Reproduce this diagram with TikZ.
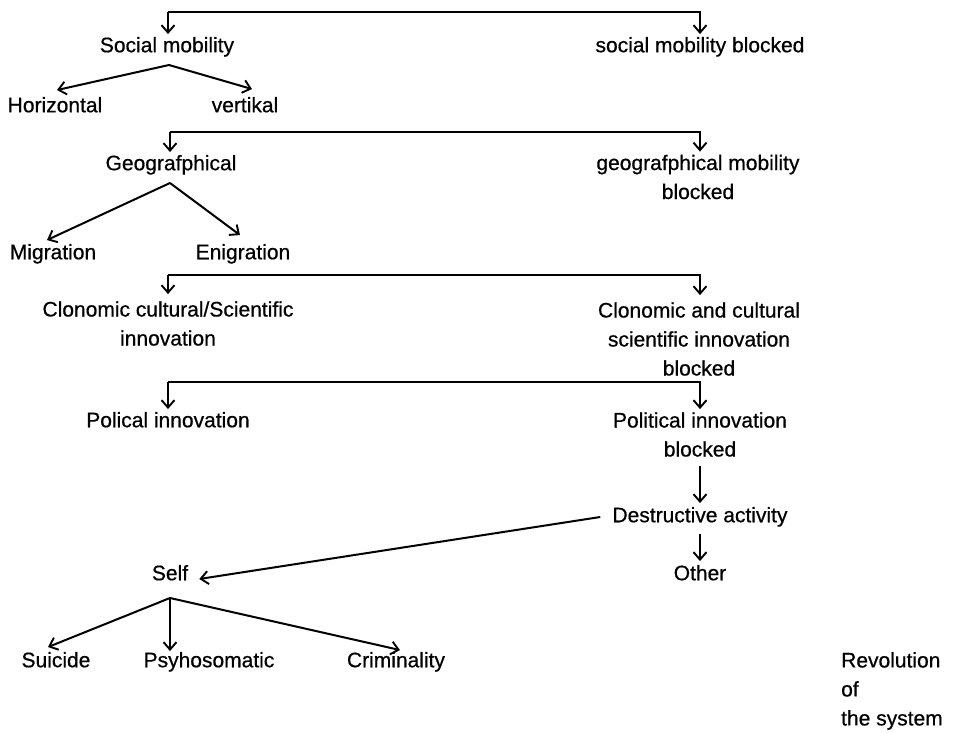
\documentclass[tikz,border=0pt]{standalone}
\usepackage{fontspec}
\setmainfont{Liberation Sans}[FakeBold=0.6]
\usetikzlibrary{arrows.meta}
\begin{document}
\begin{tikzpicture}[x=1pt,y=-1pt,
  lbl/.style={inner sep=1pt,font=\fontsize{21}{29}\selectfont,align=center},
  one/.style={lbl,text height=15pt,text depth=4.5pt},
  tipb/.tip={Straight Barb[length=7.5pt,width=13pt,line width=1.9pt]},
  arr/.style={line width=2pt,-tipb},
  thinarr/.style={line width=1.2pt,-tipb}]
\useasboundingbox[fill=white] (0,0) rectangle (959,733);
% nodes
\node[one] (sm) at (167,47) {Social mobility};
\node[one] (smb) at (700,47) {social mobility blocked};
\node[one] (hor) at (55,107) {Horizontal};
\node[one] (ver) at (245,107) {vertikal};
\node[one] (geo) at (171,165) {Geografphical};
\node[lbl] (geob) at (698,177) {geografphical mobility\\blocked};
\node[one] (mig) at (53,254) {Migration};
\node[one] (eni) at (243,254) {Enigration};
\node[lbl] (clo) at (168,323.5) {Clonomic cultural/Scientific\\innovation};
\node[lbl] (clob) at (699,339) {Clonomic and cultural\\scientific innovation\\blocked};
\node[one] (pol) at (168,422) {Polical innovation};
\node[lbl] (polb) at (700,434.5) {Political innovation\\blocked};
\node[one] (des) at (700,517) {Destructive activity};
\node[one] (oth) at (700,575) {Other};
\node[one] (self) at (170,575) {Self};
\node[one] (sui) at (56,662) {Suicide};
\node[one] (psy) at (209,662) {Psyhosomatic};
\node[one] (cri) at (396,662) {Criminality};
\node[lbl,align=left,anchor=north west] (rev) at (840,651) {Revolution\\of\\the system};
% bracket 1
\coordinate (t1) at (168,12);
\coordinate (t2) at (700,12);
\draw[arr] (t1) -- ([yshift=2pt]t1 |- sm.north);
\draw[arr] (t1) -- (t2) -- ([yshift=2pt]t2 |- smb.north);
\coordinate (a1) at (169,65);
\draw[arr] (a1) -- ([shift={(2,-6)}]hor.north);
\draw[arr] (a1) -- ([shift={(7,-7)}]ver.north);
% bracket 2
\coordinate (t3) at (170,132);
\coordinate (t4) at (700,132);
\draw[arr] (t3) -- ([yshift=2pt]t3 |- geo.north);
\draw[arr] (t3) -- (t4) -- ([yshift=2pt]t4 |- geob.north);
\coordinate (a2) at (170,183);
\draw[arr] (a2) -- ([shift={(-6,-3)}]mig.north);
\draw[arr] (a2) -- ([shift={(-3,-8)}]eni.north);
% bracket 3
\coordinate (t5) at (168,275);
\coordinate (t6) at (700,275);
\draw[arr] (t5) -- ([yshift=6pt]t5 |- clo.north);
\draw[arr] (t5) -- (t6) -- ([yshift=6pt]t6 |- clob.north);
% bracket 4
\coordinate (t7) at (168,382);
\coordinate (t8) at (700,382);
\draw[arr] (t7) -- ([yshift=2pt]t7 |- pol.north);
\draw[arr] (t7) -- (t8) -- ([yshift=2pt]t8 |- polb.north);
% chain
\draw[arr,shorten <=8pt,shorten >=3pt] (polb.south -| t8) -- (des.north -| t8);
\draw[arr,shorten <=6pt,shorten >=3pt] (des.south -| t8) -- (oth.north -| t8);
\draw[arr] ([xshift=-11pt]des.west) -- ([shift={(10,4)}]self.east);
% self tree
\coordinate (a3) at (170,598);
\draw[arr] (a3) -- ([shift={(-8,-4)}]sui.north);
\draw[thinarr] (a3) -- (a3 |- psy.north);
\draw[arr] (a3) -- ([shift={(4,-1)}]cri.north);
\end{tikzpicture}
\end{document}
